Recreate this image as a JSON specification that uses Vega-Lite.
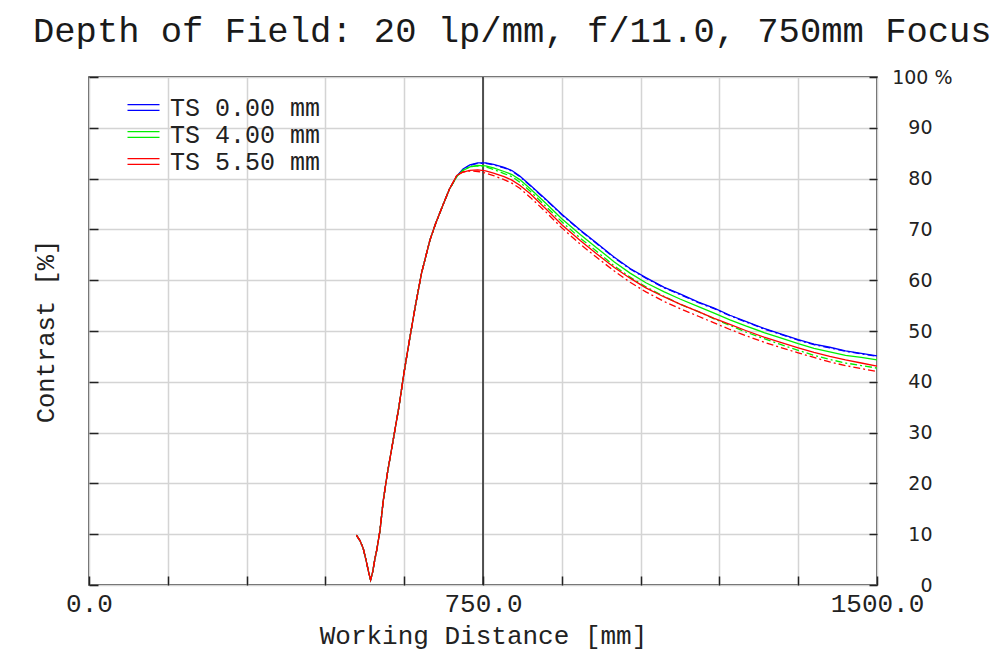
{
  "$schema": "https://vega.github.io/schema/vega-lite/v6.json",
  "width": 788,
  "height": 508,
  "autosize": {"type": "none"},
  "padding": {"left": 89, "top": 77, "right": 125, "bottom": 68},
  "background": "white",
  "title": {
    "text": "Depth of Field: 20 lp/mm, f/11.0, 750mm Focus",
    "anchor": "start",
    "frame": "group",
    "font": "Liberation Mono",
    "fontSize": 35.5,
    "fontWeight": "normal",
    "color": "#1a1a1a",
    "baseline": "alphabetic",
    "offset": -9,
    "dx": -56
  },
  "datasets": {
    "b_s": [{"d":509,"c":9.8},{"d":516,"c":8.7},{"d":522,"c":7.2},{"d":528,"c":4.6},{"d":533,"c":2.2},{"d":536,"c":1.0},{"d":540,"c":2.6},{"d":544,"c":5.0},{"d":548,"c":7.0},{"d":554,"c":10.8},{"d":560,"c":16.5},{"d":568,"c":22.0},{"d":579,"c":28.5},{"d":590,"c":35.1},{"d":600,"c":42.0},{"d":610,"c":48.2},{"d":621,"c":54.8},{"d":633,"c":61.4},{"d":649,"c":67.9},{"d":660,"c":71.2},{"d":673,"c":74.6},{"d":686,"c":77.9},
      {"d":700,"c":80.5},{"d":712,"c":81.9},{"d":725,"c":82.7},{"d":740,"c":83.1},{"d":755,"c":83.1},{"d":770,"c":82.8},{"d":790,"c":82.2},{"d":805,"c":81.6},{"d":820,"c":80.5},{"d":840,"c":78.7},{"d":870,"c":75.9},{"d":900,"c":73.0},{"d":935,"c":69.9},{"d":965,"c":67.4},{"d":1000,"c":64.5},{"d":1030,"c":62.3},{"d":1060,"c":60.5},{"d":1095,"c":58.6},{"d":1125,"c":57.3},{"d":1160,"c":55.7},{"d":1190,"c":54.5},{"d":1220,"c":53.1},{"d":1250,"c":51.9},{"d":1285,"c":50.5},{"d":1315,"c":49.5},{"d":1350,"c":48.3},{"d":1380,"c":47.4},{"d":1410,"c":46.8},{"d":1440,"c":46.1},{"d":1470,"c":45.6},{"d":1500,"c":45.1}],
    "b_t": [{"d":509,"c":9.8},{"d":516,"c":8.7},{"d":522,"c":7.2},{"d":528,"c":4.6},{"d":533,"c":2.2},{"d":536,"c":1.0},{"d":540,"c":2.6},{"d":544,"c":5.0},{"d":548,"c":7.0},{"d":554,"c":10.8},{"d":560,"c":16.5},{"d":568,"c":22.0},{"d":579,"c":28.5},{"d":590,"c":35.1},{"d":600,"c":42.0},{"d":610,"c":48.2},{"d":621,"c":54.8},{"d":633,"c":61.4},{"d":649,"c":67.9},{"d":660,"c":71.2},{"d":673,"c":74.6},{"d":686,"c":77.9},
      {"d":700,"c":80.4},{"d":712,"c":81.8},{"d":725,"c":82.6},{"d":740,"c":83.0},{"d":755,"c":83.0},{"d":770,"c":82.7},{"d":790,"c":82.1},{"d":805,"c":81.5},{"d":820,"c":80.4},{"d":840,"c":78.6},{"d":870,"c":75.8},{"d":900,"c":72.9},{"d":935,"c":69.8},{"d":965,"c":67.3},{"d":1000,"c":64.4},{"d":1030,"c":62.2},{"d":1060,"c":60.4},{"d":1095,"c":58.5},{"d":1125,"c":57.2},{"d":1160,"c":55.6},{"d":1190,"c":54.4},{"d":1220,"c":53.0},{"d":1250,"c":51.8},{"d":1285,"c":50.4},{"d":1315,"c":49.4},{"d":1350,"c":48.2},{"d":1380,"c":47.3},{"d":1410,"c":46.7},{"d":1440,"c":46.0},{"d":1470,"c":45.5},{"d":1500,"c":45.0}],
    "g_s": [{"d":509,"c":9.8},{"d":516,"c":8.7},{"d":522,"c":7.2},{"d":528,"c":4.6},{"d":533,"c":2.2},{"d":536,"c":1.0},{"d":540,"c":2.6},{"d":544,"c":5.0},{"d":548,"c":7.0},{"d":554,"c":10.8},{"d":560,"c":16.5},{"d":568,"c":22.0},{"d":579,"c":28.5},{"d":590,"c":35.1},{"d":600,"c":42.0},{"d":610,"c":48.2},{"d":621,"c":54.8},{"d":633,"c":61.4},{"d":649,"c":67.9},{"d":660,"c":71.2},{"d":673,"c":74.6},{"d":686,"c":77.9},
      {"d":700,"c":80.4},{"d":712,"c":81.6},{"d":725,"c":82.3},{"d":740,"c":82.6},{"d":755,"c":82.5},{"d":770,"c":82.1},{"d":790,"c":81.4},{"d":805,"c":80.8},{"d":820,"c":79.8},{"d":840,"c":78.0},{"d":870,"c":75.1},{"d":900,"c":72.1},{"d":935,"c":69.0},{"d":965,"c":66.5},{"d":1000,"c":63.6},{"d":1030,"c":61.4},{"d":1060,"c":59.5},{"d":1095,"c":57.7},{"d":1125,"c":56.3},{"d":1160,"c":54.8},{"d":1190,"c":53.5},{"d":1220,"c":52.2},{"d":1250,"c":51.0},{"d":1285,"c":49.7},{"d":1315,"c":48.7},{"d":1350,"c":47.5},{"d":1380,"c":46.6},{"d":1410,"c":45.9},{"d":1440,"c":45.2},{"d":1470,"c":44.8},{"d":1500,"c":44.3}],
    "g_t": [{"d":509,"c":9.8},{"d":516,"c":8.7},{"d":522,"c":7.2},{"d":528,"c":4.6},{"d":533,"c":2.2},{"d":536,"c":1.0},{"d":540,"c":2.6},{"d":544,"c":5.0},{"d":548,"c":7.0},{"d":554,"c":10.8},{"d":560,"c":16.5},{"d":568,"c":22.0},{"d":579,"c":28.5},{"d":590,"c":35.1},{"d":600,"c":42.0},{"d":610,"c":48.2},{"d":621,"c":54.8},{"d":633,"c":61.4},{"d":649,"c":67.9},{"d":660,"c":71.2},{"d":673,"c":74.6},{"d":686,"c":77.9},
      {"d":700,"c":80.4},{"d":712,"c":81.7},{"d":725,"c":82.3},{"d":740,"c":82.5},{"d":755,"c":82.3},{"d":770,"c":81.8},{"d":790,"c":81.0},{"d":805,"c":80.4},{"d":820,"c":79.3},{"d":840,"c":77.5},{"d":870,"c":74.5},{"d":900,"c":71.5},{"d":935,"c":68.3},{"d":965,"c":65.8},{"d":1000,"c":62.8},{"d":1030,"c":60.6},{"d":1060,"c":58.7},{"d":1095,"c":56.8},{"d":1125,"c":55.3},{"d":1160,"c":53.8},{"d":1190,"c":52.4},{"d":1220,"c":51.1},{"d":1250,"c":49.8},{"d":1285,"c":48.5},{"d":1315,"c":47.4},{"d":1350,"c":46.2},{"d":1380,"c":45.2},{"d":1410,"c":44.4},{"d":1440,"c":43.7},{"d":1470,"c":43.2},{"d":1500,"c":42.7}],
    "r_s": [{"d":509,"c":9.8},{"d":516,"c":8.7},{"d":522,"c":7.2},{"d":528,"c":4.6},{"d":533,"c":2.2},{"d":536,"c":1.0},{"d":540,"c":2.6},{"d":544,"c":5.0},{"d":548,"c":7.0},{"d":554,"c":10.8},{"d":560,"c":16.5},{"d":568,"c":22.0},{"d":579,"c":28.5},{"d":590,"c":35.1},{"d":600,"c":42.0},{"d":610,"c":48.2},{"d":621,"c":54.8},{"d":633,"c":61.4},{"d":649,"c":67.9},{"d":660,"c":71.2},{"d":673,"c":74.6},{"d":686,"c":77.9},
      {"d":700,"c":80.6},{"d":712,"c":81.3},{"d":725,"c":81.6},{"d":740,"c":81.7},{"d":755,"c":81.5},{"d":770,"c":81.1},{"d":790,"c":80.4},{"d":805,"c":79.7},{"d":820,"c":78.7},{"d":840,"c":77.0},{"d":870,"c":74.0},{"d":900,"c":70.9},{"d":935,"c":67.8},{"d":965,"c":65.3},{"d":1000,"c":62.5},{"d":1030,"c":60.4},{"d":1060,"c":58.5},{"d":1095,"c":56.7},{"d":1125,"c":55.3},{"d":1160,"c":53.8},{"d":1190,"c":52.5},{"d":1220,"c":51.3},{"d":1250,"c":50.1},{"d":1285,"c":48.8},{"d":1315,"c":47.8},{"d":1350,"c":46.7},{"d":1380,"c":45.8},{"d":1410,"c":45.0},{"d":1440,"c":44.3},{"d":1470,"c":43.7},{"d":1500,"c":43.1}],
    "r_t": [{"d":509,"c":9.8},{"d":516,"c":8.7},{"d":522,"c":7.2},{"d":528,"c":4.6},{"d":533,"c":2.2},{"d":536,"c":1.0},{"d":540,"c":2.6},{"d":544,"c":5.0},{"d":548,"c":7.0},{"d":554,"c":10.8},{"d":560,"c":16.5},{"d":568,"c":22.0},{"d":579,"c":28.5},{"d":590,"c":35.1},{"d":600,"c":42.0},{"d":610,"c":48.2},{"d":621,"c":54.8},{"d":633,"c":61.4},{"d":649,"c":67.9},{"d":660,"c":71.2},{"d":673,"c":74.6},{"d":686,"c":77.9},
      {"d":700,"c":80.6},{"d":712,"c":81.3},{"d":725,"c":81.5},{"d":740,"c":81.4},{"d":755,"c":81.1},{"d":770,"c":80.6},{"d":790,"c":79.8},{"d":805,"c":79.1},{"d":820,"c":78.1},{"d":840,"c":76.3},{"d":870,"c":73.4},{"d":900,"c":70.3},{"d":935,"c":67.1},{"d":965,"c":64.6},{"d":1000,"c":61.8},{"d":1030,"c":59.6},{"d":1060,"c":57.7},{"d":1095,"c":55.8},{"d":1125,"c":54.4},{"d":1160,"c":52.9},{"d":1190,"c":51.6},{"d":1220,"c":50.3},{"d":1250,"c":49.1},{"d":1285,"c":47.8},{"d":1315,"c":46.8},{"d":1350,"c":45.7},{"d":1380,"c":44.8},{"d":1410,"c":43.9},{"d":1440,"c":43.2},{"d":1470,"c":42.6},{"d":1500,"c":42.0}],
    "focus": [{"d":750}]
  },
  "encoding": {
    "x": {
      "field": "d",
      "type": "quantitative",
      "scale": {"domain": [0, 1500], "nice": false, "zero": false},
      "axis": {
        "values": [0, 150, 300, 450, 600, 750, 900, 1050, 1200, 1350, 1500],
        "labelExpr": "datum.value % 750 == 0 ? format(datum.value, '.1f') : ''",
        "tickSize": -9,
        "labelPadding": 14,
        "labelFont": "Liberation Mono",
        "labelFontSize": 26,
        "title": "Working Distance [mm]",
        "titleFont": "Liberation Mono",
        "titleFontSize": 26,
        "titlePadding": 6,
        "grid": true
      }
    }
  },
  "layer": [
    {
      "data": {"name": "focus"},
      "mark": {"type": "rule", "color": "#222222", "strokeWidth": 1.5},
      "encoding": {
        "y": {
          "datum": 0,
          "type": "quantitative",
          "scale": {"domain": [0, 100], "nice": false},
          "axis": {
            "orient": "left",
            "values": [0, 10, 20, 30, 40, 50, 60, 70, 80, 90, 100],
            "labels": false,
            "tickSize": -9,
            "grid": false,
            "title": "Contrast [%]",
            "titleFont": "Liberation Mono",
            "titleFontSize": 25.5,
            "titlePadding": 30
          }
        },
        "y2": {"datum": 100}
      }
    },
    {
      "encoding": {
        "y": {
          "field": "c",
          "type": "quantitative",
          "scale": {"domain": [0, 100], "nice": false},
          "axis": {
            "orient": "right",
            "values": [0, 10, 20, 30, 40, 50, 60, 70, 80, 90, 100],
            "labelExpr": "datum.value == 100 ? '100 %' : datum.label",
            "labelAlign": "right",
            "labelPadding": {"condition": {"test": "datum.value == 100", "value": 83}, "value": 63},
            "labelFont": "DejaVu Sans",
            "labelFontSize": 19,
            "tickSize": -8,
            "grid": true,
            "title": null
          }
        },
        "color": {
          "datum": "TS 0.00 mm",
          "type": "nominal",
          "scale": {"domain": ["TS 0.00 mm", "TS 4.00 mm", "TS 5.50 mm"], "range": ["#0000ff", "#00ee00", "#ff0000"]},
          "legend": {
            "orient": "none",
            "legendX": 42,
            "legendY": 18,
            "title": null,
            "symbolType": "M-2,-0.35H2M-2,0.35H2",
            "symbolSize": 256,
            "symbolStrokeWidth": 1.3,
            "labelFont": "Liberation Mono",
            "labelFontSize": 25,
            "labelColor": "#222222",
            "labelOffset": 14,
            "rowPadding": 1
          }
        }
      },
      "layer": [
        {"data": {"name": "b_s"}, "mark": {"type": "line", "strokeWidth": 1.3}, "encoding": {"color": {"datum": "TS 0.00 mm", "type": "nominal"}}},
        {"data": {"name": "b_t"}, "mark": {"type": "line", "strokeWidth": 1.3, "strokeDash": [7, 3, 2, 3]}, "encoding": {"color": {"datum": "TS 0.00 mm", "type": "nominal"}}},
        {"data": {"name": "g_s"}, "mark": {"type": "line", "strokeWidth": 1.3}, "encoding": {"color": {"datum": "TS 4.00 mm", "type": "nominal"}}},
        {"data": {"name": "g_t"}, "mark": {"type": "line", "strokeWidth": 1.3, "strokeDash": [7, 3, 2, 3]}, "encoding": {"color": {"datum": "TS 4.00 mm", "type": "nominal"}}},
        {"data": {"name": "r_s"}, "mark": {"type": "line", "strokeWidth": 1.3}, "encoding": {"color": {"datum": "TS 5.50 mm", "type": "nominal"}}},
        {"data": {"name": "r_t"}, "mark": {"type": "line", "strokeWidth": 1.3, "strokeDash": [7, 3, 2, 3]}, "encoding": {"color": {"datum": "TS 5.50 mm", "type": "nominal"}}}
      ]
    }
  ],
  "resolve": {"axis": {"y": "independent"}},
  "config": {
    "view": {"stroke": "#222222", "strokeWidth": 1.5},
    "axis": {
      "domain": false,
      "gridColor": "#d4d4d4",
      "gridWidth": 1.5,
      "tickColor": "#222222",
      "tickWidth": 1.5,
      "labelColor": "#222222",
      "titleColor": "#222222",
      "titleFontWeight": "normal",
      "labelFlush": false,
      "labelOverlap": false,
      "labelBound": false
    }
  }
}
